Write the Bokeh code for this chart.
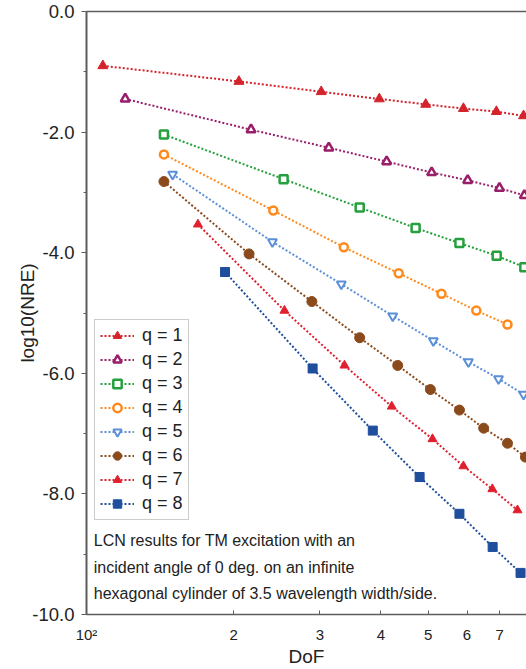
from bokeh.plotting import figure
from bokeh.models import (LinearAxis, FixedTicker, SingleIntervalTicker, PrintfTickFormatter,
                          Legend, LegendItem, Label, Range1d)
from bokeh.embed import file_html
from bokeh.resources import INLINE

# ---- data ----
dof_q1 = [108, 205, 302, 397, 494, 590, 689, 783]
nre_q1 = [-0.90, -1.16, -1.33, -1.45, -1.54, -1.61, -1.66, -1.73]
dof_q2 = [120, 217, 313, 411, 508, 602, 699, 786]
nre_q2 = [-1.45, -1.96, -2.26, -2.49, -2.67, -2.80, -2.93, -3.05]
dof_q3 = [144, 253, 362, 471, 579, 690, 786]
nre_q3 = [-2.04, -2.78, -3.25, -3.59, -3.84, -4.05, -4.24]
dof_q4 = [144, 241, 336, 435, 532, 627, 726]
nre_q4 = [-2.37, -3.30, -3.91, -4.34, -4.68, -4.96, -5.19]
dof_q5 = [150, 240, 332, 423, 512, 604, 696, 783]
nre_q5 = [-2.70, -3.82, -4.52, -5.05, -5.46, -5.81, -6.09, -6.35]
dof_q6 = [144, 215, 289, 362, 433, 505, 579, 649, 726, 790]
nre_q6 = [-2.82, -4.02, -4.81, -5.41, -5.87, -6.27, -6.61, -6.91, -7.16, -7.39]
dof_q7 = [169, 254, 337, 421, 510, 590, 676, 761]
nre_q7 = [-3.53, -4.96, -5.87, -6.55, -7.09, -7.54, -7.92, -8.27]
dof_q8 = [192, 290, 385, 480, 579, 677, 772]
nre_q8 = [-4.32, -5.92, -6.95, -7.72, -8.33, -8.88, -9.31]

labels = ["q = 1", "q = 2", "q = 3", "q = 4", "q = 5", "q = 6", "q = 7", "q = 8"]
x_ticks = [100, 200, 300, 400, 500, 600, 700]
x_tick_labels = ["10\u00b2", "2", "3", "4", "5", "6", "7"]
note_lines = ["LCN results for TM excitation with an",
              "incident angle of 0 deg. on an infinite",
              "hexagonal cylinder of 3.5 wavelength width/side."]

FONT = "Liberation Sans"

series = [
    (dof_q1, nre_q1, "#d4232b", "triangle", 10, "#d4232b", 1),
    (dof_q2, nre_q2, "#9a1f6b", "triangle", 9, "white", 2.5),
    (dof_q3, nre_q3, "#24a03c", "square", 8, "white", 2.5),
    (dof_q4, nre_q4, "#ff8a1c", "circle", 8, "white", 2.5),
    (dof_q5, nre_q5, "#5b8fd8", "inverted_triangle", 9, "white", 2),
    (dof_q6, nre_q6, "#8b4a1c", "circle", 10, "#8b4a1c", 1),
    (dof_q7, nre_q7, "#e0202e", "triangle", 9, "#e0202e", 1),
    (dof_q8, nre_q8, "#1f4e9c", "square", 9, "#1f4e9c", 1),
]

p = figure(width=526, height=669, x_axis_type="log",
           x_range=Range1d(100, 794), y_range=Range1d(-10, 0),
           output_backend="svg", toolbar_location=None,
           min_border_left=86, min_border_right=0, min_border_top=11, min_border_bottom=55)
p.xgrid.visible = False
p.ygrid.visible = False
p.outline_line_color = None
p.background_fill_color = "white"
p.border_fill_color = "white"

items = []
for (xs, ys, col, mk, sz, fill, lw), lab in zip(series, labels):
    l = p.line(xs, ys, line_color=col, line_width=2, line_dash="2 2")
    s = p.scatter(xs, ys, marker=mk, size=sz, fill_color=fill, line_color=col, line_width=lw)
    items.append(LegendItem(label=lab, renderers=[l, s]))

legend = Legend(items=items, location=(8, 94), label_text_font=FONT,
                label_text_font_size="18px", label_text_color="#222",
                glyph_width=34, glyph_height=21, label_height=21, spacing=3,
                padding=5, margin=0, label_standoff=8,
                border_line_color="#999999", border_line_width=1,
                background_fill_color="white", background_fill_alpha=1)
p.add_layout(legend)

# axes
AX = "#5c5c5c"
xa = p.xaxis[0]
xa.ticker = FixedTicker(ticks=x_ticks, minor_ticks=[])
xa.major_label_overrides = {t: s for t, s in zip(x_ticks, x_tick_labels)}
xa.axis_label = "DoF"
xa.axis_label_text_font = FONT
xa.axis_label_text_font_size = "19px"
xa.axis_label_text_font_style = "normal"
xa.axis_label_text_color = "#222"
xa.axis_label_standoff = 0
xa.major_label_text_font = FONT
xa.major_label_text_font_size = "15px"
xa.major_label_text_color = "#222"
xa.major_label_standoff = 11
xa.major_tick_in = 4
xa.major_tick_out = 0
xa.major_tick_line_color = AX
xa.axis_line_color = AX
xa.axis_line_width = 1.5

ya = p.yaxis[0]
ya.ticker = SingleIntervalTicker(interval=2, num_minor_ticks=2)
ya.formatter = PrintfTickFormatter(format="%.1f")
ya.axis_label = "log10(NRE)"
ya.axis_label_text_font = FONT
ya.axis_label_text_font_size = "19px"
ya.axis_label_text_font_style = "normal"
ya.axis_label_text_color = "#222"
ya.axis_label_standoff = -9
ya.major_label_text_font = FONT
ya.major_label_text_font_size = "18.5px"
ya.major_label_text_color = "#222"
ya.major_label_standoff = 7
ya.major_tick_out = 5
ya.major_tick_in = 0
ya.minor_tick_out = 3
ya.minor_tick_in = 0
ya.major_tick_line_color = AX
ya.minor_tick_line_color = AX
ya.axis_line_color = AX
ya.axis_line_width = 2

top = LinearAxis(ticker=FixedTicker(ticks=[]), axis_line_color=AX, axis_line_width=1.5,
                 major_tick_in=0, major_tick_out=0, minor_tick_in=0, minor_tick_out=0)
p.add_layout(top, "above")

note_y = [-8.78, -9.22, -9.65]
for txt, yv in zip(note_lines, note_y):
    p.add_layout(Label(x=103.5, y=yv, text=txt, text_baseline="middle", text_align="left",
                       text_font=FONT, text_font_size="16px", text_color="#222"))

open("out.html", "w").write(file_html(p, INLINE))
